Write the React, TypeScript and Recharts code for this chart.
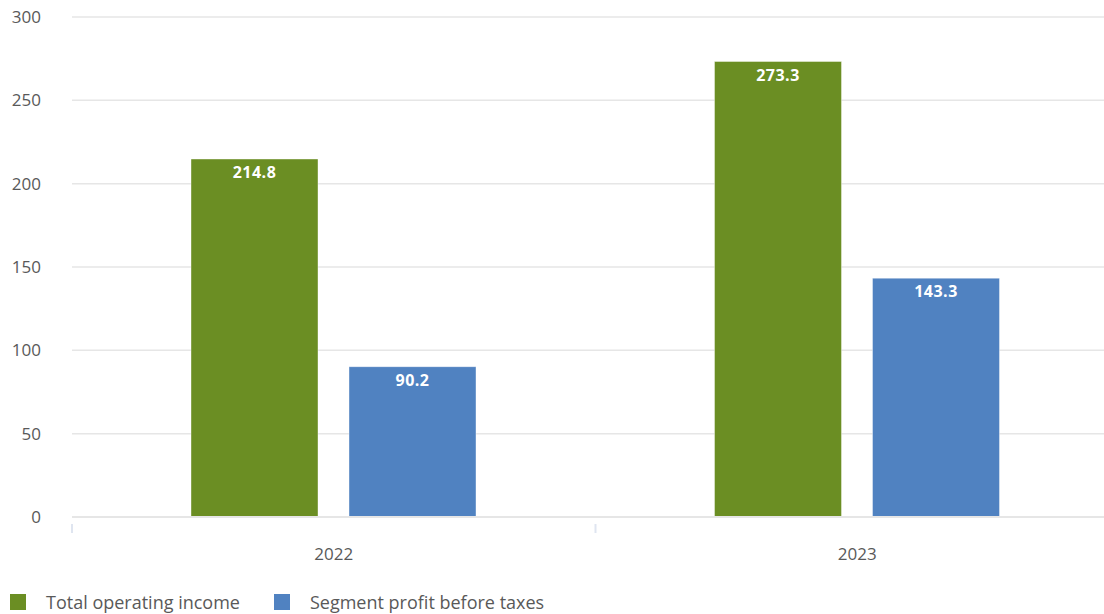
import React from 'react';
import { BarChart, Bar, XAxis, YAxis, CartesianGrid, Legend, LabelList } from 'recharts';

const years = ['2022', '2023'];
const totalOperatingIncome = [214.8, 273.3];
const segmentProfitBeforeTaxes = [90.2, 143.3];
const yTicks = [0, 50, 100, 150, 200, 250, 300];
const seriesNames = ['Total operating income', 'Segment profit before taxes'];
const seriesColors = ['#6b8e23', '#5082c1'];

const data = years.map((y, i) => ({
  year: y,
  total: totalOperatingIncome[i],
  segment: segmentProfitBeforeTaxes[i],
}));

const FONT = '"Open Sans", "DejaVu Sans", sans-serif';
const TEXT = '#595959';

const YTick = (props: any) => {
  const { x, y, payload } = props;
  return (
    <text x={x} y={y + 6} textAnchor="end" fill={TEXT} fontSize={17} fontFamily={FONT}>
      {payload.value}
    </text>
  );
};

const XTick = (props: any) => {
  const { x, y, payload, index } = props;
  const off = payload.offset || 0;
  return (
    <g>
      <line x1={x - off} x2={x - off} y1={y - 1} y2={y + 8} stroke="#dfe5f0" strokeWidth={2} />
      {index === years.length - 1 && (
        <line x1={x + off} x2={x + off} y1={y - 1} y2={y + 8} stroke="#dfe5f0" strokeWidth={2} />
      )}
      <text x={x} y={y + 35} textAnchor="middle" fill={TEXT} fontSize={17} fontFamily={FONT}>
        {payload.value}
      </text>
    </g>
  );
};

const BarLabel = (props: any) => {
  const { x, y, width, value } = props;
  return (
    <text
      x={x + width / 2}
      y={y + 19}
      textAnchor="middle"
      fill="#ffffff"
      fontSize={16}
      fontWeight={700}
      fontFamily={FONT}
      letterSpacing={0.5}
    >
      {Number(value).toFixed(1)}
    </text>
  );
};

const LegendContent = () => (
  <div
    style={{
      height: 30,
      display: 'flex',
      alignItems: 'center',
      paddingTop: 6,
      boxSizing: 'border-box',
      fontFamily: FONT,
      fontSize: 18,
      color: TEXT,
    }}
  >
    {seriesNames.map((n, i) => (
      <div key={n} style={{ display: 'flex', alignItems: 'center', marginLeft: i === 0 ? 10 : 34 }}>
        <span style={{ width: 16, height: 16, background: seriesColors[i], display: 'inline-block', marginRight: 20 }} />
        <span>{n}</span>
      </div>
    ))}
  </div>
);

export default function App() {
  return (
    <div style={{ width: 1104, height: 614, overflow: 'hidden', position: 'relative', background: '#fff' }}>
      <style>{'body{margin:0}'}</style>
      <BarChart
        width={1119}
        height={614}
        data={data}
        margin={{ top: 17, right: 0, left: 0, bottom: 0 }}
        barCategoryGap={119}
        barGap={31}
      >
        <CartesianGrid vertical={false} stroke="#e6e6e6" strokeWidth={1.5} />
        <XAxis
          dataKey="year"
          height={67}
          axisLine={{ stroke: '#e6e6e6', strokeWidth: 2 }}
          tickLine={false}
          tick={<XTick />}
          interval={0}
        />
        <YAxis
          width={72}
          domain={[0, 300]}
          ticks={yTicks}
          axisLine={false}
          tickLine={false}
          tickSize={0}
          tickMargin={31}
          tick={<YTick />}
        />
        <Legend verticalAlign="bottom" align="left" height={30} content={<LegendContent />} />
        <Bar dataKey="total" name={seriesNames[0]} fill={seriesColors[0]} stroke="rgba(255,255,255,0.4)" strokeWidth={1} isAnimationActive={false}>
          <LabelList dataKey="total" content={<BarLabel />} />
        </Bar>
        <Bar dataKey="segment" name={seriesNames[1]} fill={seriesColors[1]} stroke="rgba(255,255,255,0.4)" strokeWidth={1} isAnimationActive={false}>
          <LabelList dataKey="segment" content={<BarLabel />} />
        </Bar>
      </BarChart>
    </div>
  );
}
